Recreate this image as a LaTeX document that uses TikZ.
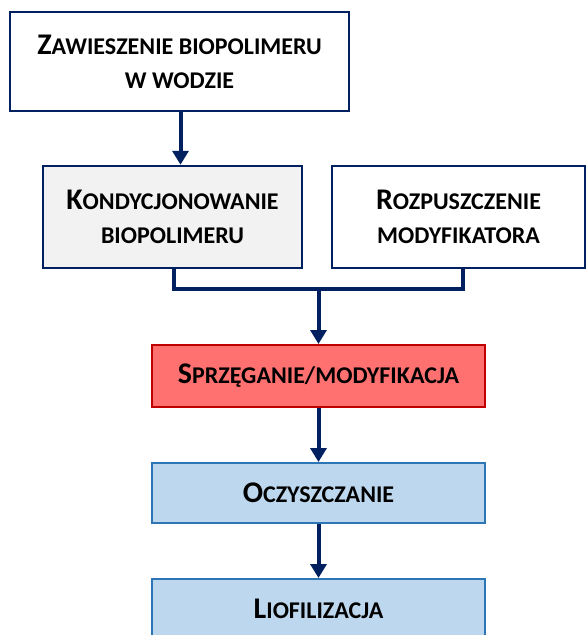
\documentclass[tikz,border=0pt]{standalone}
\usepackage{fontspec}
\setmainfont{Carlito}
\usetikzlibrary{arrows.meta}
\definecolor{navy}{HTML}{002060}
\definecolor{grayfill}{HTML}{F2F2F2}
\definecolor{redfill}{HTML}{FF7070}
\definecolor{redline}{HTML}{C00000}
\definecolor{bluefill}{HTML}{BDD7EE}
\definecolor{blueline}{HTML}{2E75B6}
\newcommand\BigL[1]{{\fontsize{30}{34}\selectfont #1}}
\tikzset{
  box/.style={rectangle, inner sep=0pt, align=center, text=black,
    font=\fontsize{24}{34}\selectfont\bfseries},
  navybox/.style={box, draw=navy, line width=2.5pt, fill=white},
  redbox/.style={box, draw=redline, line width=2pt, fill=redfill},
  bluebox/.style={box, draw=blueline, line width=2pt, fill=bluefill},
  conn/.style={draw=navy, line width=4pt, line join=miter},
  arr/.style={conn, -{Triangle[length=14pt,width=16pt]}},
}
\begin{document}
\begin{tikzpicture}[x=1pt,y=-1pt]
\useasboundingbox (0,0) rectangle (588,635);
\node[navybox, minimum width=339pt, minimum height=99pt] (z) at (179.5,61.5)
  {\BigL{Z}AWIESZENIE BIOPOLIMERU\\W WODZIE};
\node[navybox, fill=grayfill, minimum width=259pt, minimum height=102pt] (k) at (172.5,217)
  {\BigL{K}ONDYCJONOWANIE\\BIOPOLIMERU};
\node[navybox, minimum width=253pt, minimum height=102pt] (r) at (458.5,217)
  {\BigL{R}OZPUSZCZENIE\\MODYFIKATORA};
\node[redbox, minimum width=333pt, minimum height=62pt] (s) at (318.5,376)
  {\BigL{S}PRZĘGANIE/MODYFIKACJA};
\node[bluebox, minimum width=333pt, minimum height=60pt] (o) at (318.5,493)
  {\BigL{O}CZYSZCZANIE};
\node[bluebox, minimum width=333pt, minimum height=60pt] (l) at (318.5,609)
  {\BigL{L}IOFILIZACJA};
\coordinate (j) at (318.5,289);
\draw[arr] ([xshift=1pt]z.south) -- ([xshift=1pt]z.south |- k.north);
\draw[conn] ([xshift=1pt]k.south) |- (j) -| ([xshift=4pt]r.south);
\draw[arr] (j) -- (s.north);
\draw[arr] (s.south) -- (o.north);
\draw[arr] (o.south) -- (l.north);
\end{tikzpicture}
\end{document}
